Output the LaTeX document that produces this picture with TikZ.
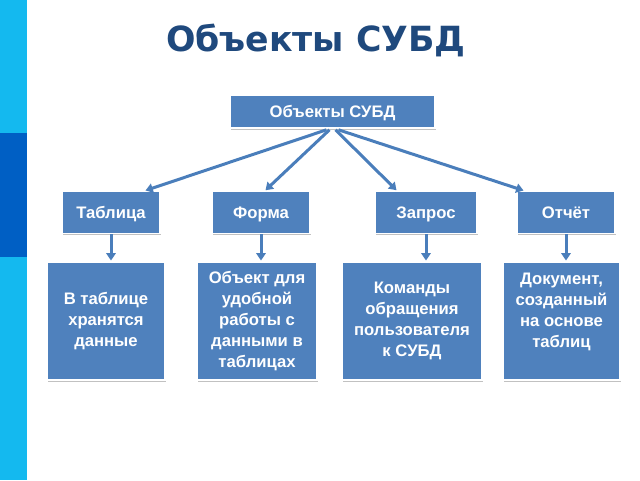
\documentclass[tikz,border=0pt]{standalone}
\usepackage{fontspec}
\setmainfont{Liberation Sans}
\newfontfamily\titlefont{DejaVu Sans}
\usetikzlibrary{arrows.meta,shadows,calc}
\definecolor{boxblue}{RGB}{79,129,189}
\definecolor{linkblue}{RGB}{74,126,187}
\definecolor{titleblue}{RGB}{31,73,125}
\definecolor{stripelight}{RGB}{20,185,239}
\definecolor{stripedark}{RGB}{0,95,196}
\tikzset{every picture/.style={line width=0.75pt}}
\tikzset{
  objbox/.style={fill=boxblue, draw=white, line width=1.2pt, text=white,
    font=\bfseries\fontsize{12.5}{14}\selectfont, inner sep=0pt,
    drop shadow={shadow xshift=0.6pt, shadow yshift=-1.4pt, opacity=0.35, fill=black!70}},
  typebox/.style={objbox, text height=9pt, text depth=0pt},
  descbox/.style={objbox, align=center, minimum height=88.5pt,
    font=\bfseries\fontsize{12.5}{15.75}\selectfont},
  link/.style={draw=linkblue, line width=2.25pt, shorten >=0.5pt,
    -{Triangle[length=5.5pt,width=7pt]}}
}

\begin{document}
\begin{tikzpicture}[x=0.75pt,y=0.75pt,yscale=-1,xscale=1]
\useasboundingbox (0,0) rectangle (640,480);
% Side stripe
\fill[stripelight] (0,0) rectangle (27,133);
\fill[stripedark] (0,133) rectangle (27,257);
\fill[stripelight] (0,257) rectangle (27,480);
% Title
\node[text=titleblue, font=\titlefont\bfseries\fontsize{26}{30}\selectfont] (title) at (316,40) {Объекты СУБД};
% Root
\node[typebox, minimum width=153.75pt, minimum height=24.75pt] (root) at (332.5,111.5) {Объекты СУБД};
% Object types
\node[typebox, minimum width=73.5pt, minimum height=31.5pt] (tab) at (111,212.5) {Таблица};
\node[typebox, minimum width=73.5pt, minimum height=31.5pt] (form) at (261,212.5) {Форма};
\node[typebox, minimum width=76.5pt, minimum height=31.5pt] (query) at (426,212.5) {Запрос};
\node[typebox, minimum width=73.5pt, minimum height=31.5pt] (rep) at (566,212.5) {Отчёт};
% Descriptions
\node[descbox, minimum width=88.5pt] (tabdesc) at (106,321) {В таблице\\хранятся\\данные};
\node[descbox, minimum width=90pt] (formdesc) at (257,321) {Объект для\\удобной\\работы с\\данными в\\таблицах};
\node[descbox, minimum width=105pt] (querydesc) at (412,321) {Команды\\обращения\\пользователя\\к СУБД};
\node[descbox, minimum width=87.75pt] (repdesc) at (561.5,321) {};
\node[text=white, align=center, font=\bfseries\fontsize{12.5}{15.75}\selectfont] (reptext) at ($(repdesc.center)+(0,-9)$) {Документ,\\созданный\\на основе\\таблиц};
% Links from root
\draw[link] ($(root.south)+(-6,1)$) -- ($(tab.north west)!0.84!(tab.north east)$);
\draw[link] ($(root.south)+(-3,1)$) -- ($(form.north)+(4,0)$);
\draw[link] ($(root.south)+(3,1)$) -- ($(query.north west)!0.22!(query.north east)$);
\draw[link] ($(root.south)+(6,1)$) -- ($(rep.north west)!0.08!(rep.north east)$);
% Links down
\draw[link] (tab.south) -- (tab.south |- tabdesc.north);
\draw[link] (form.south) -- (form.south |- formdesc.north);
\draw[link] (query.south) -- (query.south |- querydesc.north);
\draw[link] (rep.south) -- (rep.south |- repdesc.north);
\end{tikzpicture}
\end{document}
